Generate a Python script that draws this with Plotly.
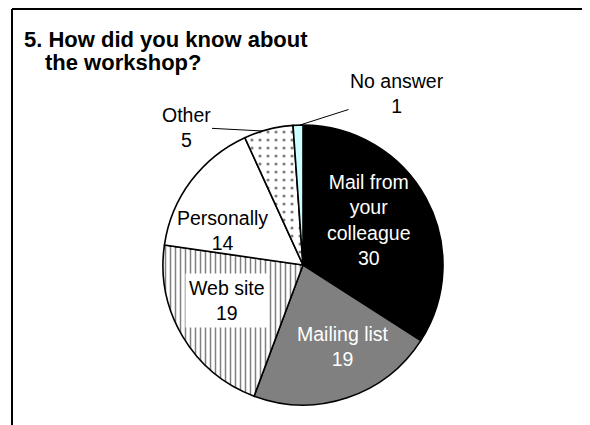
import plotly.graph_objects as go

# survey answers, clockwise from 12 o'clock
labels = ["Mail from<br>your<br>colleague", "Mailing list", "Web site", "Personally", "Other", "No answer"]
values = [30, 19, 19, 14, 5, 1]
colors = ["#000000", "#808080", "#ffffff", "#ffffff", "#ffffff", "#ccffff"]
patterns = ["", "", "|", "", ".", ""]

W, H = 590, 425
OFF = 8                      # page body margin, figure sits 8px in
cx, cy, r = 303, 265, 140    # pie centre / radius in screen px


def px(x):
    return (x - OFF) / W


def py(y):
    return 1 - (y - OFF) / H


fig = go.Figure(go.Pie(
    labels=labels,
    values=values,
    sort=False,
    direction="clockwise",
    rotation=0,
    textinfo="none",
    hoverinfo="label+value",
    marker=dict(
        colors=colors,
        line=dict(color="black", width=1.6),
        pattern=dict(shape=patterns, fgcolor="black", bgcolor=colors,
                     size=[6, 6, 5, 6, 8, 6], solidity=[0.3, 0.3, 0.3, 0.3, 0.12, 0.3],
                     fillmode="overlay"),
    ),
    domain=dict(x=[px(cx - r), px(cx + r)], y=[py(cy + r), py(cy - r)]),
    showlegend=False,
))

font = "Arial, Liberation Sans, sans-serif"
fs = 19.5

# label placement (screen px), text colour, background
lab_pos = [(368, 220), (343, 346), (227, 300), (222, 231)]
lab_col = ["white", "white", "black", "black"]
lab_bg = [None, None, "white", None]

ann = []
for i in range(4):
    x, y = lab_pos[i]
    a = dict(x=px(x), y=py(y), xref="paper", yref="paper", showarrow=False,
             xanchor="center", yanchor="middle",
             text=f"{labels[i]}<br>{values[i]}",
             font=dict(family=font, size=fs, color=lab_col[i]))
    if lab_bg[i]:
        a.update(bgcolor=lab_bg[i], borderpad=3)
    ann.append(a)

# outside labels with leader lines
out_pos = [(186, 127, 263, 131), (397, 94, 300, 125)]
for i, (tx, ty, ex, ey) in zip([4, 5], out_pos):
    ann.append(dict(x=px(ex), y=py(ey), xref="paper", yref="paper",
                    ax=tx - ex, ay=ty - ey, axref="pixel", ayref="pixel",
                    showarrow=True, arrowhead=0, arrowwidth=1, arrowcolor="black",
                    standoff=0, startstandoff=0,
                    text=f"{labels[i]}<br>{values[i]}",
                    font=dict(family=font, size=fs, color="black")))

# title, one annotation per line
title_lines = ["5. How did you know about", "the workshop?"]
for (tx, ty), t in zip([(22, 39), (43, 63)], title_lines):
    ann.append(dict(x=px(tx), y=py(ty), xref="paper", yref="paper",
                    xanchor="left", yanchor="middle", showarrow=False,
                    text=f"<b>{t}</b>",
                    font=dict(family=font, size=22, color="black")))

# frame: only the left and top edges are visible
frame = [
    dict(type="line", xref="paper", yref="paper",
         x0=px(12), y0=py(OFF + 1), x1=px(12), y1=py(460),
         line=dict(color="black", width=2)),
    dict(type="line", xref="paper", yref="paper",
         x0=px(12), y0=py(OFF + 1), x1=px(640), y1=py(OFF + 1),
         line=dict(color="black", width=2)),
]

fig.update_layout(
    width=W, height=H,
    margin=dict(l=0, r=0, t=0, b=0),
    paper_bgcolor="white",
    annotations=ann,
    shapes=frame,
)

fig.write_html("out.html")
